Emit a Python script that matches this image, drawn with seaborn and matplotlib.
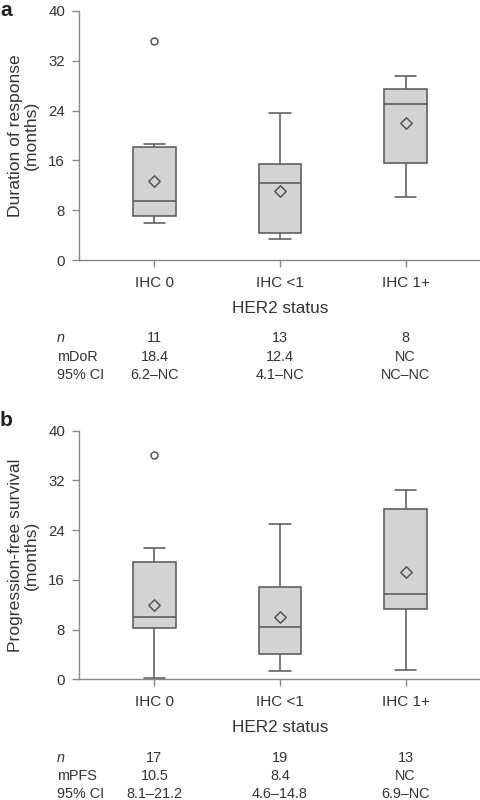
import numpy as np
import pandas as pd
import matplotlib
matplotlib.use('Agg')
import matplotlib.pyplot as plt
import matplotlib.transforms as mtransforms
import seaborn as sns

groups = ['IHC 0', 'IHC <1', 'IHC 1+']

# -- panel a: duration of response (box summary)
dor_low = [6.0, 3.3, 10.1]
dor_q1 = [7.1, 4.3, 15.6]
dor_med = [9.4, 12.4, 25.1]
dor_q3 = [18.2, 15.4, 27.4]
dor_high = [18.7, 23.6, 29.5]
dor_mean = [12.7, 11.1, 22.0]
dor_outlier = [35.2, np.nan, np.nan]
dor_n = ['11', '13', '8']
dor_median_txt = ['18.4', '12.4', 'NC']
dor_ci = ['6.2\u2013NC', '4.1\u2013NC', 'NC\u2013NC']

# -- panel b: progression-free survival
pfs_low = [0.2, 1.3, 1.5]
pfs_q1 = [8.2, 4.0, 11.3]
pfs_med = [10.0, 8.4, 13.8]
pfs_q3 = [18.8, 14.8, 27.4]
pfs_high = [21.1, 25.0, 30.5]
pfs_mean = [12.0, 10.0, 17.2]
pfs_outlier = [36.1, np.nan, np.nan]
pfs_n = ['17', '19', '13']
pfs_median_txt = ['10.5', '8.4', 'NC']
pfs_ci = ['8.1\u201321.2', '4.6\u201314.8', '6.9\u2013NC']

sns.set_style('ticks')
plt.rcParams['font.family'] = ['Liberation Sans', 'DejaVu Sans']

TXT = '#333333'
EDGE = '#555555'
FILL = '#d3d3d3'
SPINE = '#888888'


def long_form(low, q1, med, q3, high):
    rows = []
    for g, vals in zip(groups, zip(low, q1, med, q3, high)):
        for v in vals:
            rows.append({'group': g, 'value': v})
    return pd.DataFrame(rows)


def panel(ax, low, q1, med, q3, high, mean, outlier, ylabel):
    df = long_form(low, q1, med, q3, high)
    sns.boxplot(data=df, x='group', y='value', order=groups, ax=ax,
                width=0.34, whis=(0, 100), color=FILL, linecolor=EDGE,
                linewidth=1.1, fliersize=0, saturation=1)
    means = pd.DataFrame({'group': groups, 'value': mean})
    sns.stripplot(data=means, x='group', y='value', order=groups, ax=ax,
                  jitter=False, marker='D', size=5.8, color=FILL,
                  edgecolor=EDGE, linewidth=1.1)
    outs = pd.DataFrame({'group': groups, 'value': outlier}).dropna()
    sns.stripplot(data=outs, x='group', y='value', order=groups, ax=ax,
                  jitter=False, marker='o', size=5, color='white',
                  edgecolor=EDGE, linewidth=1.1)
    ax.set_xlim(-0.6, 2.6)
    ax.set_ylim(0, 40)
    ax.set_yticks([0, 8, 16, 24, 32, 40])
    sns.despine(ax=ax)
    for s in ['left', 'bottom']:
        ax.spines[s].set_color(SPINE)
        ax.spines[s].set_linewidth(1)
    ax.tick_params(axis='both', colors=SPINE, length=5, width=1)
    ax.tick_params(axis='y', labelcolor=TXT, labelsize=10.8, pad=5)
    ax.tick_params(axis='x', labelcolor=TXT, labelsize=11, pad=6.5)
    ax.set_xlabel('HER2 status', fontsize=12.3, color=TXT, labelpad=8)
    ax.set_ylabel(ylabel, fontsize=12.6, color=TXT, linespacing=1.1)
    ax.yaxis.set_label_coords(-0.10, 0.5)


def table(fig, ax, ys, label2, n, med, ci):
    tr = mtransforms.blended_transform_factory(ax.transData, fig.transFigure)
    labels = [('n', 'italic'), (label2, 'normal'), ('95% CI', 'normal')]
    for y, (lab, st) in zip(ys, labels):
        fig.text(57 / 481, 1 - y / 800, lab, style=st, fontsize=10.4,
                 color=TXT, ha='left', va='center')
    for row, y in zip([n, med, ci], ys):
        for i, t in enumerate(row):
            ax.text(i, 1 - y / 800, t, transform=tr, fontsize=10.4,
                    color=TXT, ha='center', va='center')


fig = plt.figure(figsize=(4.81, 8.0), dpi=100)
ax_a = fig.add_axes([79 / 481, 1 - 260 / 800, 1 - 79 / 481, 249 / 800])
ax_b = fig.add_axes([79 / 481, 1 - 679.3 / 800, 1 - 79 / 481, 248.6 / 800])

panel(ax_a, dor_low, dor_q1, dor_med, dor_q3, dor_high, dor_mean,
      dor_outlier, 'Duration of response\n(months)')
panel(ax_b, pfs_low, pfs_q1, pfs_med, pfs_q3, pfs_high, pfs_mean,
      pfs_outlier, 'Progression-free survival\n(months)')

table(fig, ax_a, [338.3, 357.3, 375], 'mDoR', dor_n, dor_median_txt, dor_ci)
table(fig, ax_b, [758.3, 776.5, 794], 'mPFS', pfs_n, pfs_median_txt, pfs_ci)

fig.text(0.0, 1 - 1 / 800, 'a', fontsize=15, fontweight='bold',
         color='#222222', ha='left', va='top')
fig.text(0.0, 1 - 411 / 800, 'b', fontsize=15, fontweight='bold',
         color='#222222', ha='left', va='top')

fig.savefig('out.png', dpi=100)
